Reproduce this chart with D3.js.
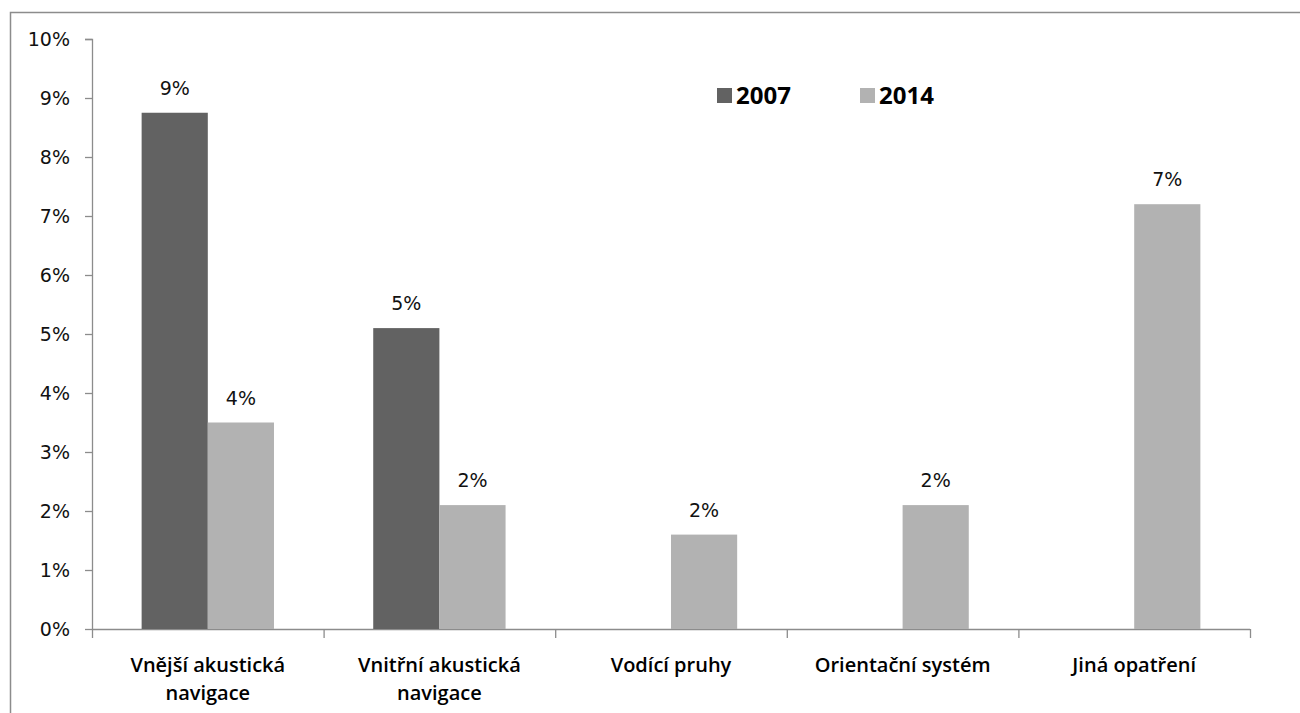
<!DOCTYPE html>
<html>
<head>
<meta charset="utf-8">
<script src="https://cdn.jsdelivr.net/npm/d3@7"></script>
<style>
  body { margin: 0; background: #fff; }
  svg { display: block; }
</style>
</head>
<body>
<svg id="chart" width="1300" height="713"></svg>
<script>
// data
const categories = [
  ["Vnější akustická", "navigace"],
  ["Vnitřní akustická", "navigace"],
  ["Vodící pruhy"],
  ["Orientační systém"],
  ["Jiná opatření"]
];
const seriesNames = ["2007", "2014"];
const values2007 = [8.75, 5.1, null, null, null];
const values2014 = [3.5, 2.1, 1.6, 2.1, 7.2];
const yTicks = [0, 1, 2, 3, 4, 5, 6, 7, 8, 9, 10];

const colors = { "2007": "#626262", "2014": "#b2b2b2" };

const svg = d3.select("#chart");

// frame (only the top and left edges fall inside the picture)
svg.append("path")
  .attr("d", "M10.5,713 V12.5 H1300")
  .attr("fill", "none")
  .attr("stroke", "#8c8c8c")
  .attr("stroke-width", 1.5);

const margin = { left: 92, right: 50, top: 39, bottom: 84 };
const width = 1300 - margin.left - margin.right;
const height = 713 - margin.top - margin.bottom;

const g = svg.append("g")
  .attr("transform", `translate(${margin.left}, ${margin.top})`);

const keys = categories.map((c, i) => i);

const x = d3.scaleBand()
  .domain(keys)
  .range([0, width])
  .paddingInner(0)
  .paddingOuter(0);

// excel gap width 150%: each bar = band / 3.5
const xSub = d3.scaleBand()
  .domain(seriesNames)
  .range([x.bandwidth() * 0.75 / 3.5, x.bandwidth() * (1 - 0.75 / 3.5)]);

const y = d3.scaleLinear()
  .domain([0, 10])
  .range([height, 0]);

// y axis
const yAxis = g.append("g")
  .call(d3.axisLeft(y)
    .tickValues(yTicks)
    .tickSize(7)
    .tickPadding(15)
    .tickFormat(d => d + "%"));
yAxis.select(".domain").attr("stroke", "#8c8c8c").attr("stroke-width", 1.3)
  .attr("d", `M-7,0.5H0.5V${height + 0.5}`);
yAxis.selectAll(".tick line").attr("stroke", "#8c8c8c").attr("stroke-width", 1.3);
yAxis.selectAll(".tick text")
  .attr("fill", "#111")
  .style("font-family", "'DejaVu Sans', Verdana, sans-serif")
  .style("font-size", "19px");

// x axis
const xAxisG = g.append("g")
  .attr("transform", `translate(0, ${height})`);
xAxisG.append("line")
  .attr("x1", 0).attr("x2", width)
  .attr("y1", 0.5).attr("y2", 0.5)
  .attr("stroke", "#8c8c8c").attr("stroke-width", 1.3);
xAxisG.selectAll(".xtick")
  .data(d3.range(keys.length + 1))
  .enter()
  .append("line")
  .attr("x1", d => d * x.step() + 0.5)
  .attr("x2", d => d * x.step() + 0.5)
  .attr("y1", 0).attr("y2", 9)
  .attr("stroke", "#8c8c8c").attr("stroke-width", 1.3);

xAxisG.selectAll(".xlabel")
  .data(categories)
  .enter()
  .append("text")
  .attr("transform", (d, i) => `translate(${x(i) + x.bandwidth() / 2}, 43)`)
  .attr("text-anchor", "middle")
  .style("font-family", "'Open Sans', sans-serif")
  .style("font-weight", "600")
  .style("font-size", "20px")
  .attr("fill", "#000")
  .selectAll("tspan")
  .data(d => d)
  .enter()
  .append("tspan")
  .attr("x", 0)
  .attr("dy", (d, i) => i === 0 ? 0 : 28)
  .text(d => d);

// bars
const barData = [];
keys.forEach(i => {
  if (values2007[i] != null) barData.push({ cat: i, series: "2007", value: values2007[i] });
  if (values2014[i] != null) barData.push({ cat: i, series: "2014", value: values2014[i] });
});

g.selectAll(".bar")
  .data(barData)
  .enter()
  .append("rect")
  .attr("x", d => x(d.cat) + xSub(d.series))
  .attr("y", d => y(d.value))
  .attr("width", xSub.bandwidth())
  .attr("height", d => height - y(d.value))
  .attr("fill", d => colors[d.series]);

g.selectAll(".barlabel")
  .data(barData)
  .enter()
  .append("text")
  .attr("x", d => x(d.cat) + xSub(d.series) + xSub.bandwidth() / 2)
  .attr("y", d => y(d.value) - 18)
  .attr("text-anchor", "middle")
  .style("font-family", "'DejaVu Sans', Verdana, sans-serif")
  .style("font-size", "19px")
  .attr("fill", "#111")
  .text(d => Math.round(d.value) + "%");

// legend
const legendX = [717, 860];
const legend = svg.append("g");
seriesNames.forEach((s, i) => {
  legend.append("rect")
    .attr("x", legendX[i]).attr("y", 88)
    .attr("width", 15).attr("height", 15)
    .attr("fill", colors[s]);
  legend.append("text")
    .attr("x", legendX[i] + 19).attr("y", 104)
    .style("font-family", "'Open Sans', sans-serif")
    .style("font-weight", "700")
    .style("font-size", "24px")
    .attr("fill", "#000")
    .text(s);
});
</script>
</body>
</html>
